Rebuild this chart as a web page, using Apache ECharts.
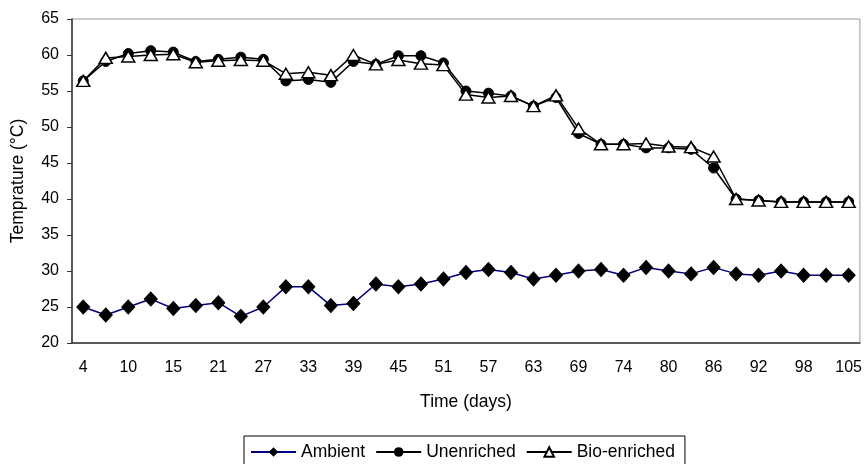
<!DOCTYPE html>
<html>
<head>
<meta charset="utf-8">
<script src="https://cdn.jsdelivr.net/npm/echarts@6/dist/echarts.min.js"></script>
<style>html,body{margin:0;padding:0;background:#fff;}#c{width:865px;height:464px;}</style>
</head>
<body>
<div id="c"></div>
<script>
const days = [4,7,10,13,15,18,21,24,27,30,33,36,39,42,45,48,51,54,57,60,63,66,69,72,74,77,80,83,86,89,92,95,98,101,105];
const ambient = [25.0,23.9,25.0,26.1,24.8,25.2,25.6,23.7,25.0,27.8,27.8,25.2,25.5,28.2,27.8,28.2,28.9,29.8,30.2,29.8,28.9,29.4,30.0,30.2,29.4,30.5,30.0,29.6,30.5,29.6,29.4,30.0,29.4,29.4,29.4];
const unenriched = [56.4,59.1,60.2,60.6,60.4,59.1,59.4,59.7,59.4,56.4,56.6,56.2,59.1,58.7,59.9,59.9,58.9,55.0,54.7,54.3,52.9,54.1,49.1,47.6,47.6,47.1,47.1,46.9,44.3,40.0,39.8,39.6,39.6,39.6,39.6];
const bioEnriched = [56.4,59.6,59.8,60.0,60.1,59.0,59.2,59.3,59.2,57.4,57.6,57.2,60.0,58.7,59.3,58.8,58.6,54.5,54.1,54.3,52.9,54.4,49.8,47.6,47.6,47.7,47.3,47.2,45.9,40.0,39.8,39.6,39.6,39.6,39.6];
const yTicks = {min:20, max:65, interval:5};

const font = 'Liberation Sans, Arial, sans-serif';
const chart = echarts.init(document.getElementById('c'));
chart.setOption({
  animation: false,
  backgroundColor: '#fff',
  textStyle: {fontFamily: font, color: '#000'},
  grid: {left: 72, right: 5, top: 19, bottom: 121, show: true, borderColor: '#999', borderWidth: 1},
  legend: {
    left: 244, top: 436,
    data: ['Ambient','Unenriched','Bio-enriched'],
    borderColor: '#000', borderWidth: 1,
    padding: [7, 10, 8, 6],
    itemWidth: 45, itemHeight: 12, itemGap: 10,
    textStyle: {fontFamily: font, fontSize: 17.5, color: '#000'}
  },
  xAxis: {
    type: 'category', data: days, boundaryGap: true,
    name: 'Time (days)', nameLocation: 'middle', nameGap: 50,
    nameTextStyle: {fontFamily: font, fontSize: 17.5, color: '#000'},
    axisLine: {lineStyle: {color: '#333', width: 1.5}},
    axisTick: {interval: 0, length: 5, lineStyle: {color: '#333'}},
    axisLabel: {interval: 1, margin: 17, fontSize: 16, color: '#000', fontFamily: font},
    splitLine: {show: false}
  },
  yAxis: {
    type: 'value', min: yTicks.min, max: yTicks.max, interval: yTicks.interval,
    name: 'Temprature (°C)', nameLocation: 'middle', nameGap: 45,
    nameTextStyle: {fontFamily: font, fontSize: 17.5, color: '#000'},
    axisLine: {show: true, lineStyle: {color: '#333', width: 1.5}},
    axisTick: {show: true, length: 5, lineStyle: {color: '#333'}},
    axisLabel: {margin: 13, fontSize: 16, color: '#000', fontFamily: font},
    splitLine: {show: false}
  },
  series: [
    {
      name: 'Ambient', type: 'line', data: ambient,
      symbol: 'diamond', symbolSize: [13, 14],
      lineStyle: {color: '#000080', width: 1.5},
      itemStyle: {color: '#000', borderColor: '#000'}
    },
    {
      name: 'Unenriched', type: 'line', data: unenriched,
      symbol: 'circle', symbolSize: 10,
      lineStyle: {color: '#000', width: 1.5},
      itemStyle: {color: '#000', borderColor: '#000'}
    },
    {
      name: 'Bio-enriched', type: 'line', data: bioEnriched,
      symbol: 'triangle', symbolSize: [13, 11],
      lineStyle: {color: '#000', width: 1.5},
      itemStyle: {color: '#fff', borderColor: '#000', borderWidth: 1.5}
    }
  ]
});
</script>
</body>
</html>
